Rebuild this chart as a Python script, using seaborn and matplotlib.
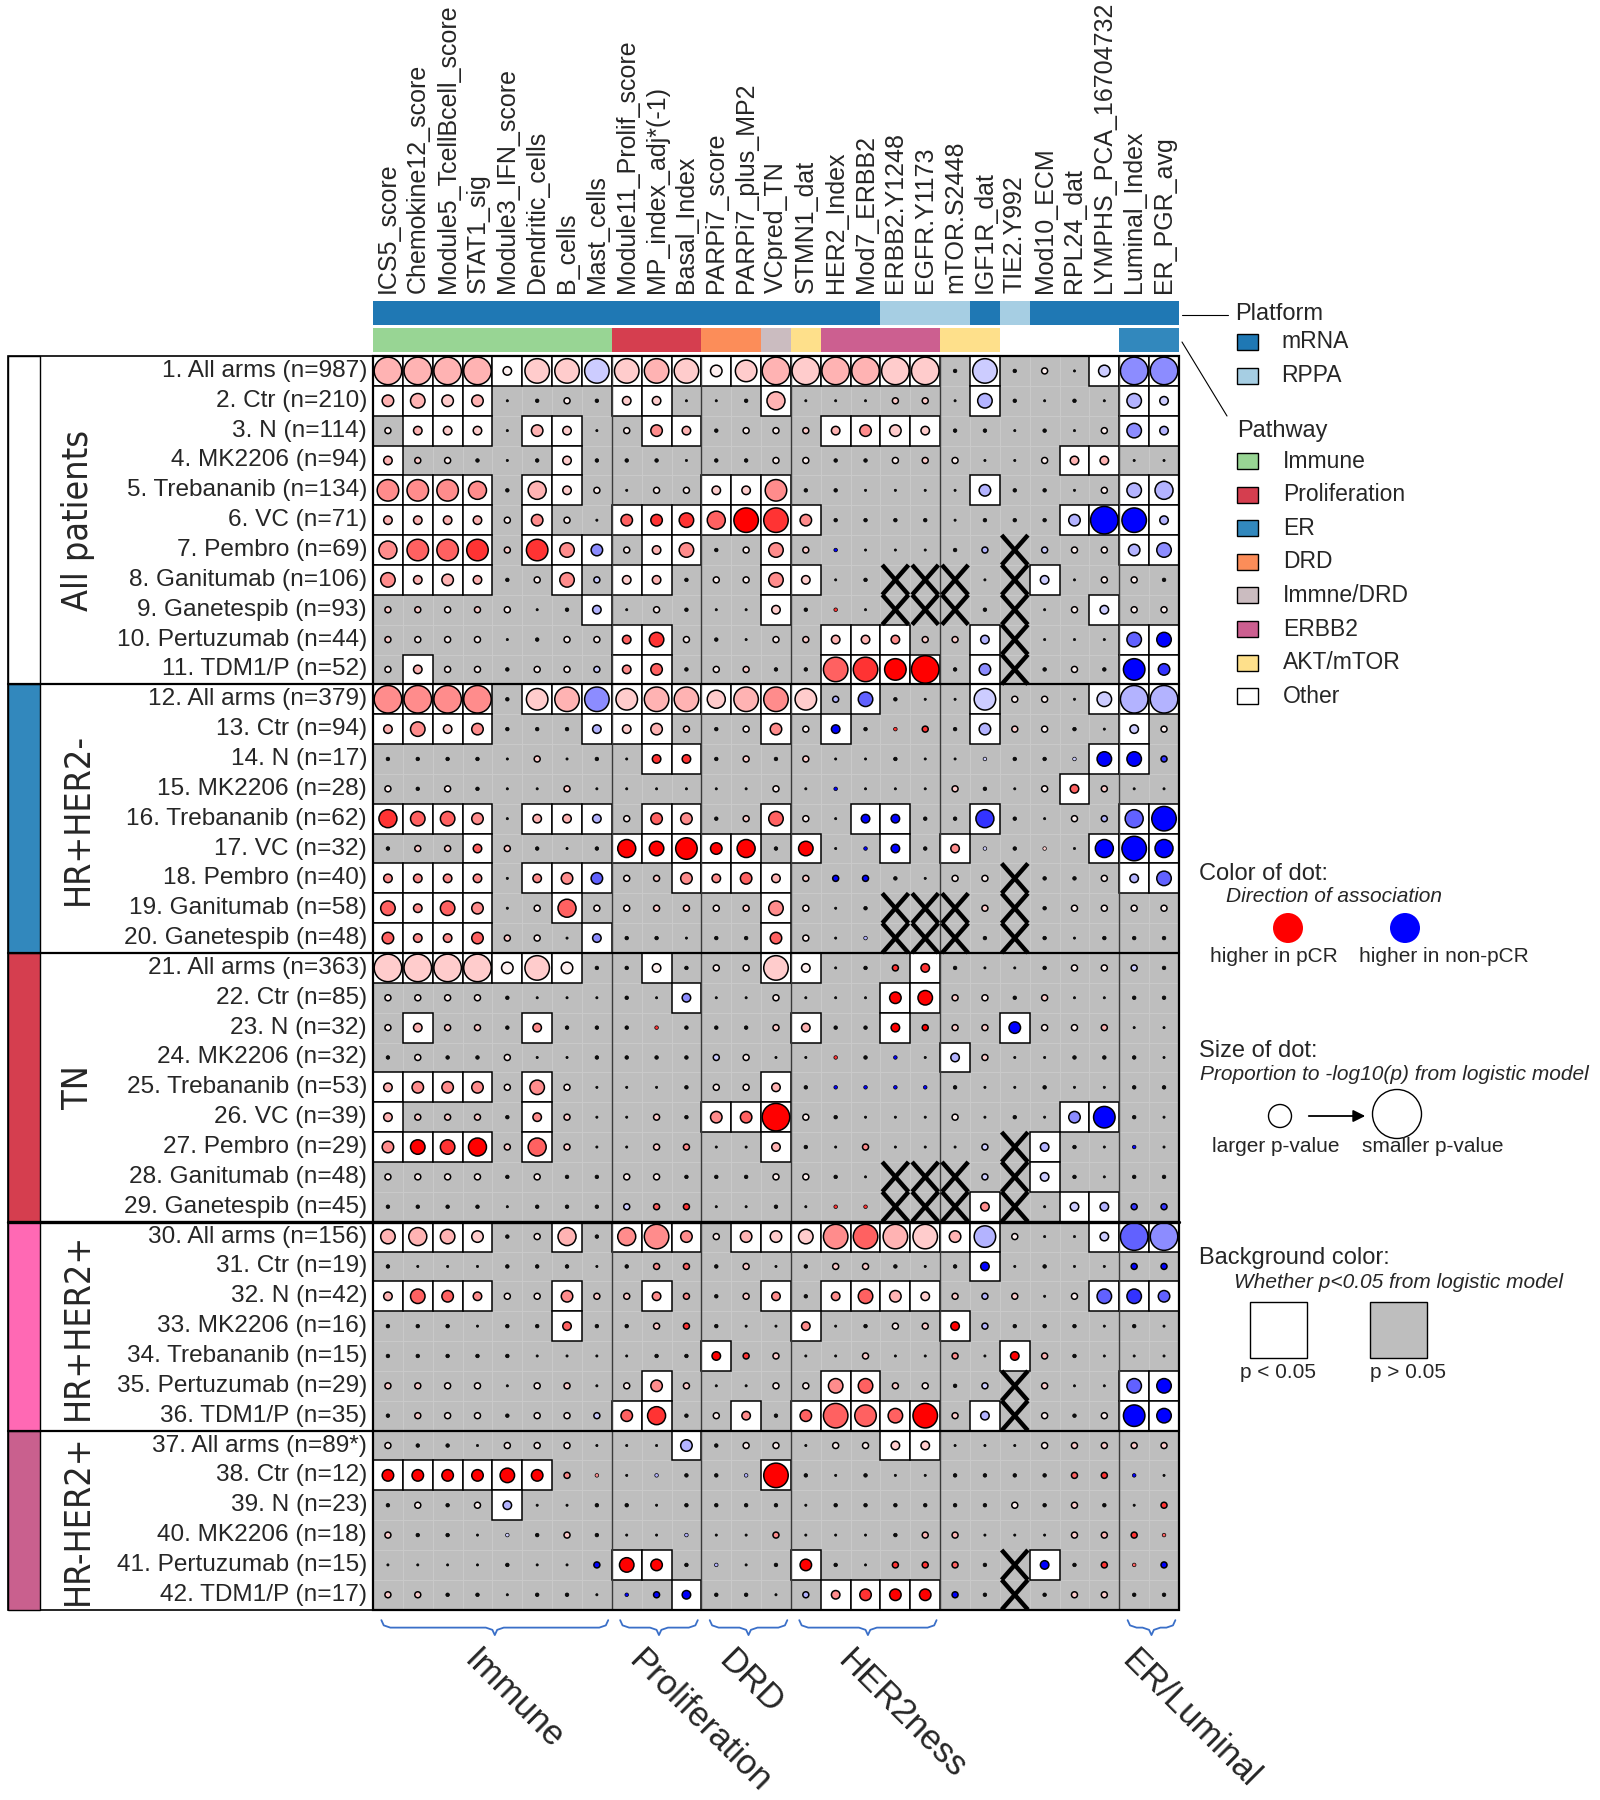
import matplotlib
matplotlib.use("Agg")
import numpy as np
import pandas as pd
import matplotlib.pyplot as plt
from matplotlib import font_manager as fm
from matplotlib.colors import ListedColormap
from matplotlib.patches import Rectangle, Circle
import seaborn as sns

sns.set_theme(style="white")
plt.rcParams['font.family'] = ['Liberation Sans', 'DejaVu Sans']

# ---------------- data ----------------
features = ["ICS5_score", "Chemokine12_score", "Module5_TcellBcell_score", "STAT1_sig",
            "Module3_IFN_score", "Dendritic_cells", "B_cells", "Mast_cells",
            "Module11_Prolif_score", "MP_index_adj*(-1)", "Basal_Index", "PARPi7_score",
            "PARPi7_plus_MP2", "VCpred_TN", "STMN1_dat", "HER2_Index", "Mod7_ERBB2",
            "ERBB2.Y1248", "EGFR.Y1173", "mTOR.S2448", "IGF1R_dat", "TIE2.Y992",
            "Mod10_ECM", "RPL24_dat", "LYMPHS_PCA_16704732", "Luminal_Index", "ER_PGR_avg"]

platform = ["mRNA"] * 17 + ["RPPA"] * 3 + ["mRNA", "RPPA"] + ["mRNA"] * 5
pathway = (["Immune"] * 8 + ["Proliferation"] * 3 + ["DRD"] * 2 + ["Immne/DRD", "AKT/mTOR"]
           + ["ERBB2"] * 4 + ["AKT/mTOR"] * 2 + ["Other"] * 4 + ["ER"] * 2)

row_labels = ["1. All arms (n=987)", "2. Ctr (n=210)", "3. N (n=114)", "4. MK2206 (n=94)",
              "5. Trebananib (n=134)", "6. VC (n=71)", "7. Pembro (n=69)", "8. Ganitumab (n=106)",
              "9. Ganetespib (n=93)", "10. Pertuzumab (n=44)", "11. TDM1/P (n=52)",
              "12. All arms (n=379)", "13. Ctr (n=94)", "14. N (n=17)", "15. MK2206 (n=28)",
              "16. Trebananib (n=62)", "17. VC (n=32)", "18. Pembro (n=40)", "19. Ganitumab (n=58)",
              "20. Ganetespib (n=48)", "21. All arms (n=363)", "22. Ctr (n=85)", "23. N (n=32)",
              "24. MK2206 (n=32)", "25. Trebananib (n=53)", "26. VC (n=39)", "27. Pembro (n=29)",
              "28. Ganitumab (n=48)", "29. Ganetespib (n=45)", "30. All arms (n=156)",
              "31. Ctr (n=19)", "32. N (n=42)", "33. MK2206 (n=16)", "34. Trebananib (n=15)",
              "35. Pertuzumab (n=29)", "36. TDM1/P (n=35)", "37. All arms (n=89*)",
              "38. Ctr (n=12)", "39. N (n=23)", "40. MK2206 (n=18)", "41. Pertuzumab (n=15)",
              "42. TDM1/P (n=17)"]

group_names = ["All patients", "HR+HER2-", "TN", "HR+HER2+", "HR-HER2+"]
group_sizes = [11, 9, 9, 7, 6]
group_colors = ["#ffffff", "#3288bd", "#d53e4f", "#ff69b4", "#c9608e"]

# each cell: size level (0-9, ~ -log10 p) + colour code
# lower case = higher in pCR (red), upper case = higher in non-pCR (blue), k = neutral, xx = missing
cells = [
    "9b 9b 9b 9b 3w 8a 8a 8A 8a  8b 8a 4w 7a 9b 9a 9b 9b 9a  9a 1k 8A 1k 2w 0k 4A 9C 9C",
    "4b 5b 4a 4b 0k 1k 2w 1k 3a  3a 0k 0k 1k 6b 0k 0k 0k 2a  2a 0k 5B 1k 0k 1k 0k 5B 3A",
    "2w 3b 3a 3a 0k 4b 3a 0k 2w  4c 3b 1k 2w 2w 2a 3b 4c 4a  3a 1k 1k 0k 1k 0k 2w 5C 3B",
    "3b 2a 2w 1k 0k 1k 3a 1k 1k  1k 0k 1k 1k 2w 2w 1k 1k 2w  2a 2w 0k 0k 2w 3b 3b 0k 0k",
    "7c 7c 7c 6c 1k 6b 3a 2w 0k  2w 2w 3a 3a 7c 1k 1k 0k 0k  0k 0k 4B 1k 1k 0k 2w 5B 6B",
    "3b 3b 3b 3b 2w 4c 2w 0k 4d  4e 5e 6d 8f 8e 4c 1k 1k 1k  1k 0k 1k 1k 1k 4B 9F 8F 3B",
    "6c 7d 7d 7e 2a 7e 5c 4C 2w  3b 5c 1k 2w 5c 2a 1F 0k 0k  0k 1k 2B xx 2A 2w 2w 4B 5C",
    "5c 3b 4b 3b 1k 2w 5c 2A 3a  3b 1k 2w 2w 5c 3a 0k 1k xx  xx xx 0k xx 3A 0k 2w 2w 1k",
    "2a 2a 2w 2a 2w 0k 1k 3B 0k  2w 1k 0k 0k 3a 1k 1e 0k xx  xx xx 1k xx 0k 2w 3A 2w 2w",
    "2a 2w 2w 2w 0k 1k 2w 2w 3d  5e 2w 1k 0k 2w 2a 3b 3b 3c  2a 2a 3B xx 0k 0k 0k 5D 5F",
    "2w 3b 2w 2w 1k 2w 2w 2A 3c  4d 1k 2w 2a 1k 1k 8d 8e 7f  9f 1k 4C xx 1k 2w 1k 7F 4E",
    "9c 9c 9c 9c 1k 7a 8b 8C 7a  8b 8b 6a 8b 8c 7a 2B 5D 1k  0k 0k 7A 2w 2w 0k 5A 9B 9B",
    "3b 5c 3a 4c 1k 1k 1k 3B 3a  4b 2a 1k 2w 4c 2w 3F 1k 1e  2e 1k 4B 2a 2w 1k 0k 3A 2w",
    "1k 1k 1k 1k 0k 2a 0k 1k 0k  3e 3e 1k 2a 1k 2a 0k 0k 1k  0k 0k 1A 1k 1k 1A 5F 5F 2E",
    "2w 1k 2w 1k 0k 0k 2a 0k 0k  0k 0k 0k 0k 2w 0k 1F 0k 0k  0k 2a 1k 0k 2w 3d 2a 0k 0k",
    "6e 5d 5d 4c 0k 3b 3b 3B 2w  4d 4c 1k 2a 5d 2w 0k 3F 3F  1k 1k 6E 1k 0k 2w 2B 6D 8F",
    "1k 2a 2a 3d 2a 1k 0k 1k 6f  5f 7f 4f 6f 1k 5f 0k 1F 3F  1k 3c 1A 1k 1a 0k 6F 8F 6F",
    "3c 3c 3c 3c 0k 3c 4c 4D 2w  2a 4c 3c 4d 3b 2a 2F 2F 1k  0k 2w 2w xx 1k 1k 2w 3B 5D",
    "5d 3c 5d 4c 0k 2w 6d 2w 2w  2a 2a 2w 2a 5c 2w 0k 1k xx  xx xx 2a xx 1k 2w 2w 2w 2w",
    "4d 3c 3c 4d 2a 2w 0k 3C 1k  1k 0k 1k 1k 4d 2w 0k 1B xx  xx xx 1k xx 1k 0k 1k 1k 1k",
    "9a 9a 9a 9a 4w 8a 4w 1k 1k  3w 1k 2w 2w 8a 3w 0k 1k 2e  3e 1k 0k 0k 1k 2w 2w 2A 1k",
    "2w 2w 2w 2w 1k 0k 0k 0k 1k  0k 3C 0k 0k 2w 0k 0k 0k 4f  5f 2a 2w 1k 2a 0k 0k 1k 1k",
    "2w 3b 2a 2a 1k 3c 1k 1k 1k  1e 1k 1k 1k 2a 3b 1k 1k 3f  2f 2a 2a 4F 2w 2w 2b 0k 0k",
    "1k 2w 1k 1k 2w 0k 0k 1k 1k  1k 1k 2A 2w 0k 0k 1e 1k 1F  0k 3B 2a 0k 0k 1k 1k 1k 0k",
    "3b 4c 4c 4c 2w 5c 2w 0k 0k  0k 1k 2w 2w 3b 1k 1F 1F 1F  1F 1k 0k 0k 1k 0k 0k 1k 1k",
    "3b 2a 2a 2a 1k 3c 2a 0k 0k  2a 1k 4c 4d 9f 2w 1k 0k 0k  0k 2w 0k 1k 0k 4C 7F 1k 0k",
    "4c 5f 5e 6f 2a 6d 2a 0k 0k  2a 2c 0k 0k 3b 1k 0k 2c 0k  0k 0k 2A xx 3B 1k 0k 1F 0k",
    "2w 2w 2w 2w 1k 2w 1k 1k 2w  2w 1k 1k 1k 2w 2w 1k 0k xx  xx xx 2A xx 3A 1k 0k 1k 1k",
    "1k 1k 1k 1k 0k 1k 1k 1k 2A  2d 2e 0k 0k 1k 0k 1e 1e xx  xx xx 3c xx 0k 3A 3B 2E 2E",
    "5b 6b 5b 4a 1k 2w 6b 1k 6c  8c 4c 2w 4b 4a 5a 8c 8d 8b  8a 4b 7B 2w 0k 0k 3A 9D 9C",
    "1k 0k 0k 0k 1k 1k 1k 0k 1k  2c 2d 1k 2a 0k 1k 2a 2a 1k  0k 1k 3F 0k 1k 0k 0k 2F 2F",
    "3b 5d 4d 3c 2w 2w 4c 2a 2a  3c 2c 1k 2a 3c 1k 3c 5d 4b  3a 2a 2B 2a 0k 2w 5D 5E 4D",
    "1k 1k 1k 0k 1k 1k 3d 1k 1k  2a 2e 1k 0k 0k 3c 0k 1k 2w  2a 3f 2B 1k 1k 1k 0k 1k 0k",
    "1k 1k 1k 1k 1k 0k 0k 0k 0k  1k 1k 3f 2e 2a 0k 0k 2a 0k  0k 2c 0k 3f 2b 1k 0k 0k 0k",
    "2a 2a 2w 2w 0k 2w 2a 0k 2w  4c 2a 0k 0k 2w 2w 5c 5d 2a  2w 1k 2A xx 2a 0k 0k 5D 5F",
    "1k 2a 2w 2w 1k 2w 2w 2A 4d  6e 1k 2w 3c 1k 4d 8d 7d 5d  8f 2a 3B xx 2w 1k 2w 7F 5F",
    "2w 1k 1k 0k 2w 2w 2w 0k 0k  0k 4B 1k 2w 2w 0k 2w 2w 3a  3a 0k 0k 0k 2w 2a 2a 2a 2a",
    "4f 4f 4f 4f 5f 4f 2c 1c 0k  1B 1k 1k 1B 8f 1k 0k 1k 0k  0k 1k 1k 1k 1k 2d 2e 1F 0k",
    "1k 2w 1k 2w 3B 0k 0k 1k 1k  0k 1k 1k 1k 1k 0k 1k 1k 1k  1k 1k 1k 2w 1k 2a 1k 0k 2e",
    "2a 1k 1k 0k 1A 1k 2a 1k 0k  0k 1B 0k 0k 2c 0k 0k 0k 1k  2b 2b 0k 0k 0k 2a 2b 2e 1d",
    "0k 0k 0k 0k 1k 0k 0k 2F 5f  4f 1k 1B 0k 1k 4f 1k 0k 2e  2e 2d 1k xx 3F 1k 2e 1d 2F",
    "2a 2a 1k 1k 0k 1k 1k 0k 1F  2F 3F 1k 1k 0k 2B 3c 4e 4f  4f 2F 1k xx 1k 2a 2a 1k 1k",
]

braces = [("Immune", 0, 8), ("Proliferation", 8, 11), ("DRD", 11, 14),
          ("HER2ness", 14, 19), ("ER/Luminal", 25, 27)]
separators = [8, 11, 14, 19, 25]

platform_colors = {"mRNA": "#1f78b4", "RPPA": "#a6cee3"}
pathway_colors = {"Immune": "#98d594", "Proliferation": "#d53e4f", "ER": "#3288bd",
                  "DRD": "#fc8d59", "Immne/DRD": "#cbbcc0", "ERBB2": "#cc5f90",
                  "AKT/mTOR": "#fee08b", "Other": "#ffffff"}

# ---------------- tidy table ----------------
recs = []
for r, line in enumerate(cells):
    toks = line.split()
    assert len(toks) == len(features), (r, len(toks))
    for c, t in enumerate(toks):
        if t == "xx":
            recs.append(dict(row=r, col=c, level=0, code="k", missing=True))
        else:
            recs.append(dict(row=r, col=c, level=int(t[0]), code=t[1], missing=False))
df = pd.DataFrame(recs)
df["x"] = df["col"] + 0.5
df["y"] = df["row"] + 0.5
df["sig"] = (df["level"] >= 3) & ~df["missing"]

shade = {"w": 0.06, "a": 0.2, "b": 0.3, "c": 0.45, "d": 0.62, "e": 0.8, "f": 1.0}


def dot_colour(code):
    if code == "k":
        return (0.05, 0.05, 0.05)
    t = shade[code.lower()]
    if code.islower():
        return (1.0, 1 - t, 1 - t)
    return (1 - t, 1 - t, 1.0)


palette = {c: dot_colour(c) for c in df["code"].unique()}
size_px = {0: 2.2, 1: 3.6, 2: 6.0, 3: 8.5, 4: 11.5, 5: 14.5, 6: 18.0, 7: 21.5, 8: 24.5, 9: 27.5}
sizes = {k: (v * 0.72) ** 2 for k, v in size_px.items()}

# condensed face for the group labels, if one is installed
cond = [f for f in fm.fontManager.ttflist
        if f.stretch in ("condensed", "semi-condensed") and f.style == "normal"
        and str(f.weight) in ("400", "normal", "regular", "book")
        and "Mono" not in f.name and "Serif" not in f.name]
cond.sort(key=lambda f: (0 if "Liberation" in f.name else 1 if "DejaVu" in f.name else 2))
group_font = dict(fontproperties=fm.FontProperties(fname=cond[0].fname)) if cond else {}

# ---------------- figure ----------------
W, H = 1600, 1800
fig = plt.figure(figsize=(16, 18), dpi=100)
gx0, gy0, cell = 373, 356, 29.85
nr, nc = len(row_labels), len(features)
ax = fig.add_axes([gx0 / W, 1 - (gy0 + nr * cell) / H, nc * cell / W, nr * cell / H])

sig_mat = df.pivot(index="row", columns="col", values="sig").astype(int)
sns.heatmap(sig_mat, cmap=ListedColormap(["#bebebe", "#ffffff"]), vmin=0, vmax=1, cbar=False,
            linewidths=0.6, linecolor="#c9c9c9", xticklabels=False, yticklabels=False, ax=ax)

for _, d in df[df["sig"]].iterrows():
    ax.add_patch(Rectangle((d["col"], d["row"]), 1, 1, fc="white", ec="black", lw=1.1, zorder=2))

for v in separators:
    ax.plot([v, v], [0, nr], color="#3a3a3a", lw=1.0, zorder=2.5)

live = df[~df["missing"]]
big = live[live["level"] >= 2]
small = live[live["level"] < 2]
sns.scatterplot(data=big, x="x", y="y", hue="code", palette=palette, size="level", sizes=sizes,
                edgecolor="black", linewidth=1.1, legend=False, ax=ax, zorder=3)
sns.scatterplot(data=small, x="x", y="y", hue="code", palette=palette, size="level", sizes=sizes,
                edgecolor="black", linewidth=0.5, legend=False, ax=ax, zorder=3)

for _, d in df[df["missing"]].iterrows():
    c, r = d["col"], d["row"]
    ax.plot([c + 0.06, c + 0.94], [r, r + 1], color="black", lw=3.2, solid_capstyle="butt", zorder=4)
    ax.plot([c + 0.94, c + 0.06], [r, r + 1], color="black", lw=3.2, solid_capstyle="butt", zorder=4)

ax.set_xlim(0, nc)
ax.set_ylim(nr, 0)
ax.set_xlabel("")
ax.set_ylabel("")
ax.set_xticks([])
ax.set_yticks([])
for s in ax.spines.values():
    s.set_visible(False)
ax.add_patch(Rectangle((0, 0), nc, nr, fill=False, ec="black", lw=1.6, zorder=6, clip_on=False))

# column labels and annotation bars
for c, name in enumerate(features):
    ax.text(c + 0.5, -2.12, name, rotation=90, ha="center", va="bottom", fontsize=18)
    ax.add_patch(Rectangle((c, -1.84), 1, 0.8, fc=platform_colors[platform[c]], ec="none",
                           clip_on=False))
    ax.add_patch(Rectangle((c, -0.94), 1, 0.8, fc=pathway_colors[pathway[c]], ec="none",
                           clip_on=False))

# row labels and group panel
x_left = (8 - gx0) / cell
x_bar = (40 - gx0) / cell
x_glab = (78 - gx0) / cell
for r, lab in enumerate(row_labels):
    ax.text(-0.2, r + 0.5, lab, ha="right", va="center", fontsize=17.6)

ax.add_patch(Rectangle((x_left, 0), -x_left, nr, fill=False, ec="black", lw=1.2, clip_on=False))
start = 0
glabels = []
for name, n, colr in zip(group_names, group_sizes, group_colors):
    ax.add_patch(Rectangle((x_left, start), x_bar - x_left, n, fc=colr, ec="black", lw=1.0,
                           clip_on=False, zorder=2))
    glabels.append(ax.text(x_glab, start + n / 2, name, rotation=90, ha="center", va="center",
                           fontsize=30, **group_font))
    start += n
    if start < nr:
        ax.plot([x_left, nc], [start, start], color="black", lw=2.4 if start == 29 else 1.6,
                clip_on=False, zorder=6)

# size the group labels so "HR+HER2+" spans about 190 px as in the source
fig.canvas.draw()
rend = fig.canvas.get_renderer()
span = glabels[3].get_window_extent(rend).height
for t in glabels:
    t.set_fontsize(30 * 188 / span)

# braces under the grid
y0, bh = 42.35, 0.5
for lab, c0, c1 in braces:
    x0, x1 = c0 + 0.28, c1 - 0.12
    xc = (x0 + x1) / 2
    xs = [x0, x0 + 0.08, x0 + 0.3, xc - 0.3, xc - 0.08, xc, xc + 0.08, xc + 0.3, x1 - 0.3, x1 - 0.08, x1]
    ys = [y0, y0 + 0.35 * bh, y0 + 0.5 * bh, y0 + 0.5 * bh, y0 + 0.65 * bh, y0 + bh,
          y0 + 0.65 * bh, y0 + 0.5 * bh, y0 + 0.5 * bh, y0 + 0.35 * bh, y0]
    ax.plot(xs, ys, color="#3a6fc8", lw=1.3, clip_on=False)
    ax.text(xc - 0.45, y0 + bh + 0.3, lab, rotation=-45, rotation_mode="anchor", ha="left",
            va="top", fontsize=25)

# ---------------- legend (pixel overlay) ----------------
lg = fig.add_axes([0, 0, 1, 1])
lg.set_xlim(0, W)
lg.set_ylim(H, 0)
lg.set_axis_off()
lg.patch.set_alpha(0)

lg.plot([1182, 1228], [315, 315], color="black", lw=0.8)
lg.plot([1182, 1227], [342, 416], color="black", lw=0.8)
lg.text(1235, 314, "Platform", fontsize=17, va="center")
for i, p in enumerate(["mRNA", "RPPA"]):
    y = 342 + i * 34
    lg.add_patch(Rectangle((1237, y - 8), 21, 16, fc=platform_colors[p], ec="black", lw=1.0))
    lg.text(1281, y, p, fontsize=16.5, va="center")
lg.text(1237, 431, "Pathway", fontsize=17, va="center")
for i, p in enumerate(["Immune", "Proliferation", "ER", "DRD", "Immne/DRD", "ERBB2",
                       "AKT/mTOR", "Other"]):
    y = 461 + i * 33.6
    lg.add_patch(Rectangle((1237, y - 8), 21, 16, fc=pathway_colors[p], ec="black", lw=1.0))
    lg.text(1283, y, p, fontsize=16.5, va="center")

lg.text(1199, 874, "Color of dot:", fontsize=17, va="center")
lg.text(1226, 897, "Direction of association", fontsize=15, style="italic", va="center")
lg.add_patch(Circle((1288, 928), 15, fc="red", ec="none"))
lg.add_patch(Circle((1405, 928), 15, fc="blue", ec="none"))
lg.text(1274, 957, "higher in pCR", fontsize=15, ha="center", va="center")
lg.text(1444, 957, "higher in non-pCR", fontsize=15, ha="center", va="center")

lg.text(1199, 1051, "Size of dot:", fontsize=17, va="center")
lg.text(1200, 1075, "Proportion to -log10(p) from logistic model", fontsize=15, style="italic",
        va="center")
lg.add_patch(Circle((1280, 1116), 11.5, fc="white", ec="black", lw=1.0))
lg.add_patch(Circle((1397, 1114), 24.5, fc="white", ec="black", lw=1.0))
lg.annotate("", xy=(1368, 1116), xytext=(1306, 1116),
            arrowprops=dict(arrowstyle="-|>", color="black", lw=1.3, mutation_scale=18))
lg.text(1276, 1147, "larger p-value", fontsize=15, ha="center", va="center")
lg.text(1433, 1147, "smaller p-value", fontsize=15, ha="center", va="center")

lg.text(1199, 1258, "Background color:", fontsize=17, va="center")
lg.text(1234, 1283, "Whether p<0.05 from logistic model", fontsize=15, style="italic",
        va="center")
lg.add_patch(Rectangle((1250, 1302), 57, 56, fc="white", ec="black", lw=1.0))
lg.add_patch(Rectangle((1370, 1302), 57, 56, fc="#bebebe", ec="black", lw=1.0))
lg.text(1278, 1373, "p < 0.05", fontsize=15, ha="center", va="center")
lg.text(1408, 1373, "p > 0.05", fontsize=15, ha="center", va="center")

fig.savefig("out.png", dpi=100, facecolor="white")
